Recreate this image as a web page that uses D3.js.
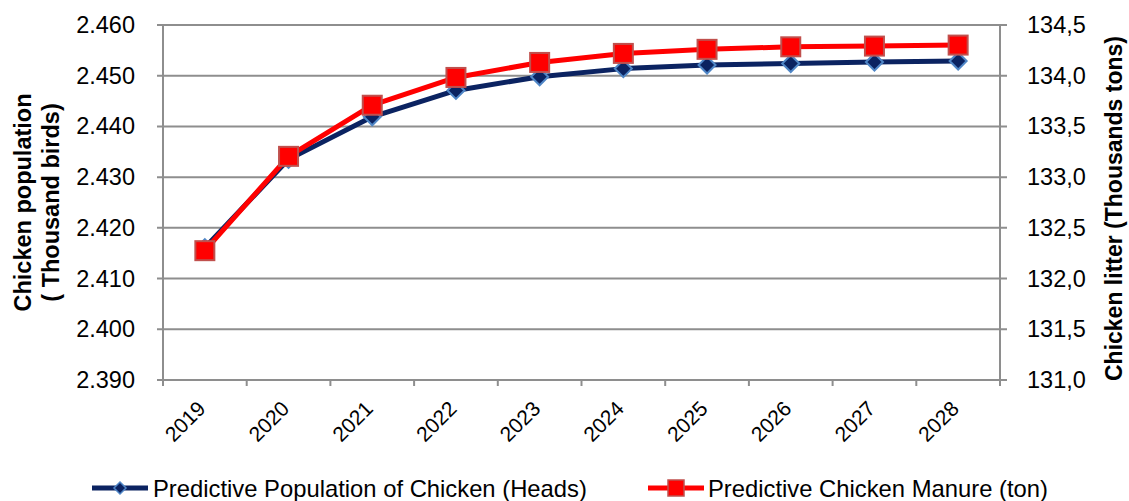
<!DOCTYPE html>
<html><head><meta charset="utf-8">
<script src="https://cdn.jsdelivr.net/npm/d3@7"></script>
<style>
body{margin:0;background:#fff}
svg{display:block}
text{font-family:"Liberation Sans",Arial,sans-serif;fill:#000}
</style>
</head><body>
<svg id="c" width="1129" height="501"></svg>
<script>
// ---- data ----
const years = ["2019","2020","2021","2022","2023","2024","2025","2026","2027","2028"];
const population = [2.4161, 2.4335, 2.4419, 2.4471, 2.4498, 2.4514, 2.4521, 2.4524, 2.4527, 2.4529];
const manure = [132.275, 133.205, 133.709, 133.983, 134.131, 134.220, 134.260, 134.285, 134.292, 134.302];
const leftTicks = [2.39, 2.40, 2.41, 2.42, 2.43, 2.44, 2.45, 2.46];
const leftTickLabels = ["2.390","2.400","2.410","2.420","2.430","2.440","2.450","2.460"];
const rightTicks = [131.0, 131.5, 132.0, 132.5, 133.0, 133.5, 134.0, 134.5];
const rightTickLabels = ["131,0","131,5","132,0","132,5","133,0","133,5","134,0","134,5"];
const seriesNames = ["Predictive Population of Chicken (Heads)", "Predictive Chicken Manure (ton)"];
const leftTitle = ["Chicken population", "( Thousand birds)"];
const rightTitle = "Chicken litter (Thousands tons)";

// ---- layout ----
const L = 163, R = 1000, T = 25, B = 380;
const gridColor = "#8e8e8e";
const navy = "#0b2361", navyEdge = "#4f86c6";
const red = "#ff0000", redEdge = "#c0504d";

const svg = d3.select("#c");
const x = d3.scaleBand().domain(years).range([L, R]).padding(0);
const yL = d3.scaleLinear().domain([2.39, 2.46]).range([B, T]);
const yR = d3.scaleLinear().domain([131, 134.5]).range([B, T]);

// gridlines (extend across tick marks on both sides)
svg.append("g").selectAll("line").data(leftTicks).join("line")
  .attr("x1", L - 6).attr("x2", R + 7)
  .attr("y1", d => yL(d)).attr("y2", d => yL(d))
  .attr("stroke", gridColor).attr("stroke-width", 2);

// left axis
const gL = svg.append("g").attr("transform", `translate(${L},0)`)
  .call(d3.axisLeft(yL).tickValues(leftTicks).tickSize(6).tickPadding(22)
    .tickFormat((d, i) => leftTickLabels[i]));
gL.select(".domain").remove();
gL.selectAll("line").remove();
gL.selectAll("text").attr("font-size", 23.5).attr("font-family", '"Liberation Sans",Arial,sans-serif');
svg.append("line").attr("x1", L).attr("x2", L).attr("y1", T).attr("y2", B + 6)
  .attr("stroke", gridColor).attr("stroke-width", 2);

// right axis
const gR = svg.append("g").attr("transform", `translate(${R},0)`)
  .call(d3.axisRight(yR).tickValues(rightTicks).tickSize(7).tickPadding(20)
    .tickFormat((d, i) => rightTickLabels[i]));
gR.select(".domain").remove();
gR.selectAll("line").remove();
gR.selectAll("text").attr("font-size", 23.5).attr("font-family", '"Liberation Sans",Arial,sans-serif');
svg.append("line").attr("x1", R).attr("x2", R).attr("y1", T).attr("y2", B + 6)
  .attr("stroke", gridColor).attr("stroke-width", 2);

// x axis ticks at band boundaries
const bounds = years.map(d => x(d)).concat([x(years[years.length - 1]) + x.bandwidth()]);
svg.append("g").selectAll("line").data(bounds).join("line")
  .attr("x1", d => d).attr("x2", d => d).attr("y1", B).attr("y2", B + 6)
  .attr("stroke", gridColor).attr("stroke-width", 2);
svg.append("g").selectAll("text").data(years).join("text")
  .attr("transform", d => `translate(${x(d) + x.bandwidth() / 2 + 2},${B + 30}) rotate(-45)`)
  .attr("text-anchor", "end").attr("font-size", 21).text(d => d);

// axis titles
const lt = svg.append("text").attr("transform", `translate(31,${(T + B) / 2}) rotate(-90)`)
  .attr("text-anchor", "middle").attr("font-size", 23.5).attr("font-weight", "bold");
lt.append("tspan").attr("x", 0).attr("y", 0).text(leftTitle[0]);
lt.append("tspan").attr("x", 0).attr("y", 28).text(leftTitle[1]);
svg.append("text").attr("transform", `translate(1122,${(T + B) / 2 + 6}) rotate(-90)`)
  .attr("text-anchor", "middle").attr("font-size", 23).attr("font-weight", "bold")
  .text(rightTitle);

// series
const cx = (d, i) => x(years[i]) + x.bandwidth() / 2;
const lineL = d3.line().x(cx).y(d => yL(d));
const lineR = d3.line().x(cx).y(d => yR(d));
const diamond = s => `M0,${-s}L${s},0L0,${s}L${-s},0Z`;

svg.append("path").datum(population).attr("d", lineL)
  .attr("fill", "none").attr("stroke", navy).attr("stroke-width", 5).attr("stroke-linejoin", "round");
svg.append("g").selectAll("path").data(population).join("path")
  .attr("transform", (d, i) => `translate(${cx(d, i)},${yL(d)})`)
  .attr("d", diamond(8.5)).attr("fill", navy).attr("stroke", navyEdge).attr("stroke-width", 2);

svg.append("path").datum(manure).attr("d", lineR)
  .attr("fill", "none").attr("stroke", red).attr("stroke-width", 5).attr("stroke-linejoin", "round");
svg.append("g").selectAll("rect").data(manure).join("rect")
  .attr("x", (d, i) => cx(d, i) - 9.5).attr("y", d => yR(d) - 9.5)
  .attr("width", 19).attr("height", 19)
  .attr("fill", red).attr("stroke", redEdge).attr("stroke-width", 2);

// legend
const leg = svg.append("g");
const ly = 488;
leg.append("line").attr("x1", 92).attr("x2", 148).attr("y1", ly).attr("y2", ly)
  .attr("stroke", navy).attr("stroke-width", 5);
leg.append("path").attr("transform", `translate(120,${ly})`).attr("d", diamond(6))
  .attr("fill", navy).attr("stroke", navyEdge).attr("stroke-width", 1.5);
leg.append("text").attr("x", 153).attr("y", 497).attr("font-size", 23.8).text(seriesNames[0]);
leg.append("line").attr("x1", 648).attr("x2", 704).attr("y1", ly).attr("y2", ly)
  .attr("stroke", red).attr("stroke-width", 5);
leg.append("rect").attr("x", 668).attr("y", ly - 8).attr("width", 16).attr("height", 16)
  .attr("fill", red).attr("stroke", redEdge).attr("stroke-width", 1.5);
leg.append("text").attr("x", 708).attr("y", 497).attr("font-size", 23.8).text(seriesNames[1]);
</script>
</body></html>
